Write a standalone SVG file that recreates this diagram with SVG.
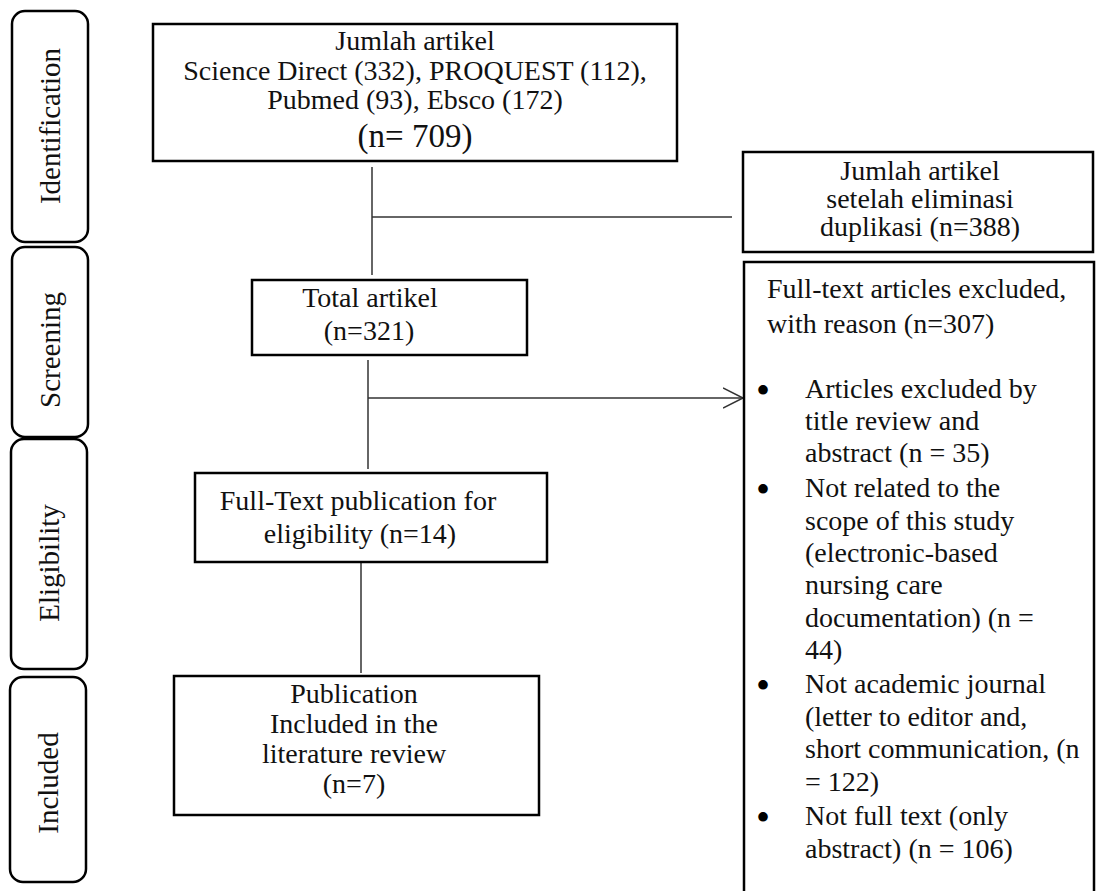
<svg xmlns="http://www.w3.org/2000/svg" width="1096" height="891" viewBox="0 0 1096 891">
<defs>
<style>
.stage{fill:#fff;stroke:#000;stroke-width:2.5}
.box{fill:#fff;stroke:#000;stroke-width:2.5}
.t{font-family:"Liberation Serif","Times New Roman",serif;font-size:28px;fill:#111}
.c{text-anchor:middle}
.b{font-family:"Liberation Serif","Times New Roman",serif;font-size:40px;fill:#000}
.lbl{font-family:"Liberation Serif","Times New Roman",serif;font-size:29px;fill:#111;text-anchor:middle}
.conn{stroke:#333;stroke-width:1.5;fill:none}
</style>
<marker id="open" viewBox="0 0 22 22" refX="20" refY="11" markerWidth="22" markerHeight="22" markerUnits="userSpaceOnUse" orient="auto">
<path d="M0,1 L20,11 L0,21" fill="none" stroke="#333" stroke-width="1.5"/>
</marker>
</defs>
<rect width="1096" height="891" fill="#fff"/>

<g id="stage-identification">
<rect class="stage" x="12" y="11" width="76" height="231" rx="13"/>
<text class="lbl" transform="translate(60,126) rotate(-90)">Identification</text>
</g>
<g id="stage-screening">
<rect class="stage" x="12" y="247" width="76" height="190" rx="13"/>
<text class="lbl" transform="translate(60,350) rotate(-90)">Screening</text>
</g>
<g id="stage-eligibility">
<rect class="stage" x="11" y="439" width="76" height="230" rx="13"/>
<text class="lbl" transform="translate(59,563) rotate(-90)">Eligibility</text>
</g>
<g id="stage-included">
<rect class="stage" x="10" y="677" width="76" height="205" rx="13"/>
<text class="lbl" transform="translate(58,783) rotate(-90)">Included</text>
</g>

<g id="connectors">
<line class="conn" x1="372" y1="167" x2="372" y2="275"/>
<line class="conn" x1="372" y1="217" x2="732" y2="217"/>
<line class="conn" x1="368" y1="360" x2="368" y2="469"/>
<line class="conn" x1="368" y1="398" x2="743" y2="398" marker-end="url(#open)"/>
<line class="conn" x1="361" y1="560" x2="361" y2="673"/>
</g>

<g id="node-identified">
<rect class="box" x="153" y="24" width="524" height="137"/>
<text class="t c" x="415" y="50">Jumlah artikel</text>
<text class="t c" x="415" y="80">Science Direct (332), PROQUEST (112),</text>
<text class="t c" x="415" y="109">Pubmed (93), Ebsco (172)</text>
<text class="t c" x="415" y="147" style="font-size:33px">(n= 709)</text>
</g>

<g id="node-duplicates">
<rect class="box" x="743" y="152" width="350" height="100"/>
<text class="t c" x="920" y="180">Jumlah artikel</text>
<text class="t c" x="920" y="208">setelah eliminasi</text>
<text class="t c" x="920" y="236">duplikasi (n=388)</text>
</g>

<g id="node-screened">
<rect class="box" x="252" y="280" width="275" height="75"/>
<text class="t c" x="370" y="307">Total artikel</text>
<text class="t c" x="369" y="340">(n=321)</text>
</g>

<g id="node-excluded">
<rect class="box" x="744" y="262" width="350" height="640"/>
<text class="t" x="767" y="298">Full-text articles excluded,</text>
<text class="t" x="767" y="333">with reason (n=307)</text>
<text class="b" x="756" y="404">•</text>
<text class="t" x="805" y="398">Articles excluded by</text>
<text class="t" x="805" y="430">title review and</text>
<text class="t" x="805" y="462">abstract (n = 35)</text>
<text class="b" x="756" y="503">•</text>
<text class="t" x="805" y="497">Not related to the</text>
<text class="t" x="805" y="530">scope of this study</text>
<text class="t" x="805" y="562">(electronic-based</text>
<text class="t" x="805" y="594">nursing care</text>
<text class="t" x="805" y="627">documentation) (n =</text>
<text class="t" x="805" y="659">44)</text>
<text class="b" x="756" y="699">•</text>
<text class="t" x="805" y="693">Not academic journal</text>
<text class="t" x="805" y="726">(letter to editor and,</text>
<text class="t" x="805" y="758">short communication, (n</text>
<text class="t" x="805" y="791">= 122)</text>
<text class="b" x="756" y="831">•</text>
<text class="t" x="805" y="825">Not full text (only</text>
<text class="t" x="805" y="858">abstract) (n = 106)</text>
</g>

<g id="node-eligibility">
<rect class="box" x="195" y="473" width="352" height="89"/>
<text class="t c" x="358" y="510">Full-Text publication for</text>
<text class="t c" x="360" y="543">eligibility (n=14)</text>
</g>

<g id="node-included">
<rect class="box" x="174" y="676" width="365" height="139"/>
<text class="t c" x="354" y="703">Publication</text>
<text class="t c" x="354" y="733">Included in the</text>
<text class="t c" x="354" y="763">literature review</text>
<text class="t c" x="354" y="793">(n=7)</text>
</g>
</svg>
